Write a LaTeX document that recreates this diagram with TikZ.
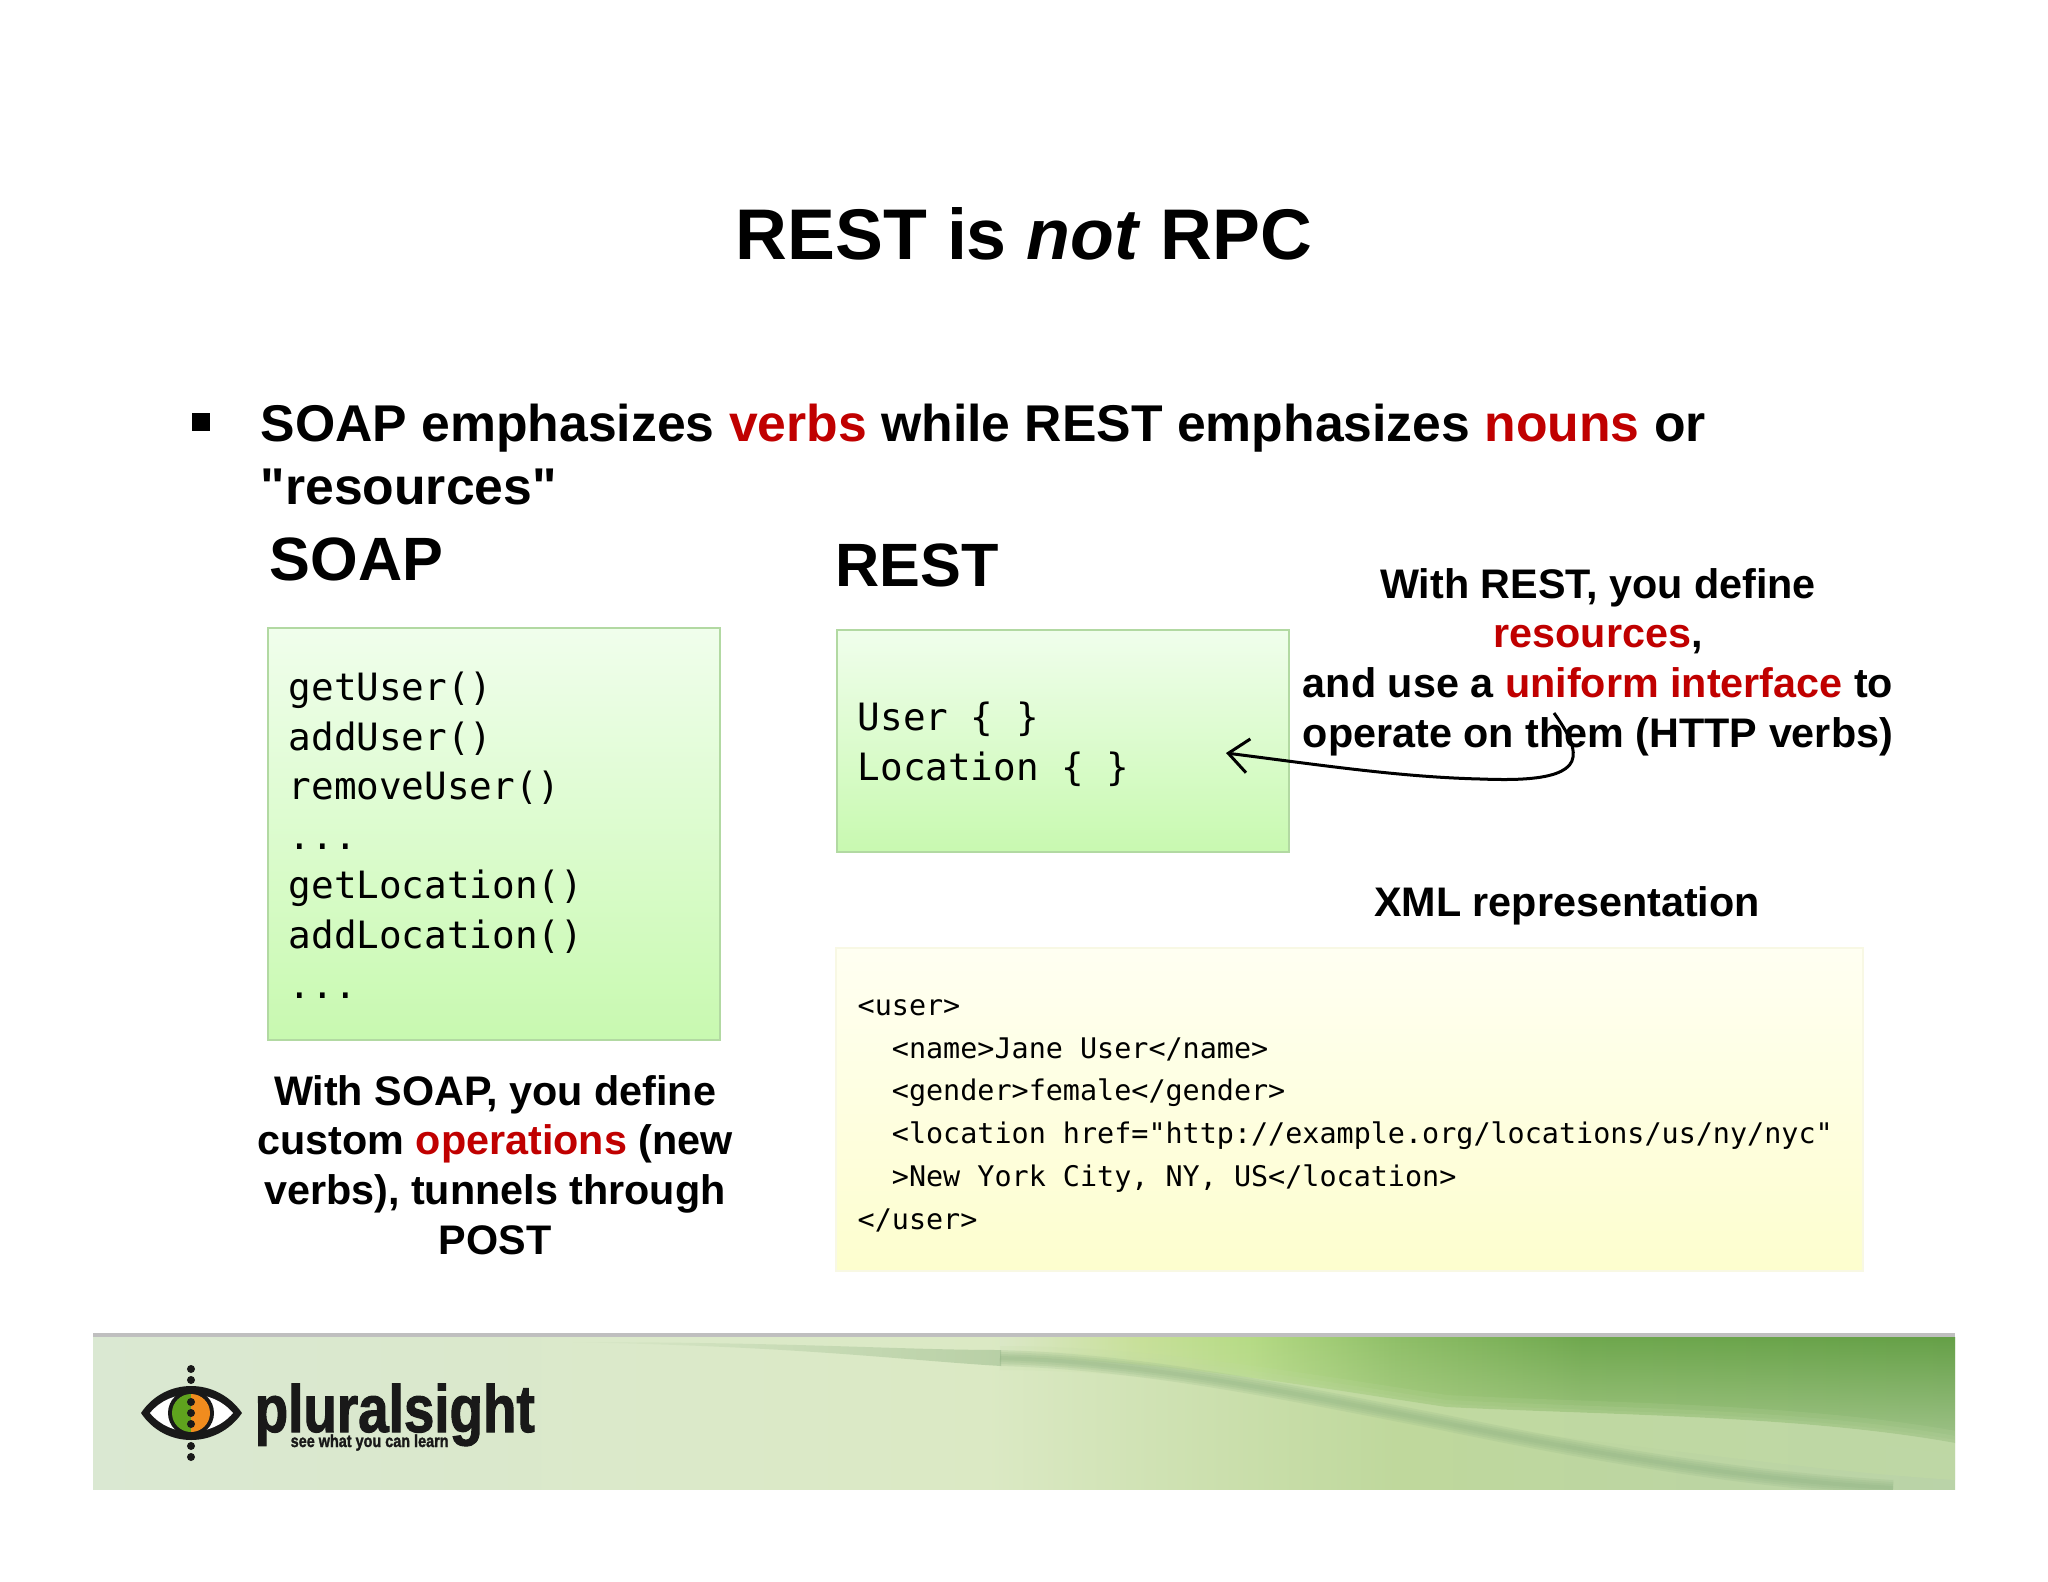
\documentclass[tikz,border=0pt]{standalone}
\usepackage{fontspec}
\setmainfont{Liberation Sans}[Ligatures=TeXOff]
\newfontfamily\codefont{DejaVu Sans Mono}
\newfontfamily\logofont[FakeStretch=0.82,FakeBold=1.5]{Liberation Sans Bold}
\usetikzlibrary{arrows.meta,fadings}

\definecolor{hotred}{HTML}{C00000}
\definecolor{greentop}{HTML}{F0FEEC}
\definecolor{greenbot}{HTML}{C8F9B0}
\definecolor{greenline}{HTML}{B2D9A2}
\definecolor{yellowtop}{HTML}{FFFFF2}
\definecolor{yellowbot}{HTML}{FDFECE}
\definecolor{yellowline}{HTML}{F8F8E4}
\definecolor{wavegreen}{HTML}{8FB283}
\definecolor{bandgreen}{HTML}{C2DBA4}
\definecolor{irisgreen}{HTML}{5FA31E}
\definecolor{irisorange}{HTML}{F08C1E}
\definecolor{baseone}{HTML}{DAE8D2}
\definecolor{basetwo}{HTML}{DBE9C4}
\definecolor{basethree}{HTML}{BFD89C}
\definecolor{basefour}{HTML}{BAD3A8}
\definecolor{grassone}{HTML}{DDE8CC}
\definecolor{grasstwo}{HTML}{C8E09A}
\definecolor{grassthree}{HTML}{B6DB85}
\definecolor{grassfour}{HTML}{8FBF68}
\definecolor{grassfive}{HTML}{6FA84E}
\definecolor{grasssix}{HTML}{65A047}

\pgfdeclarehorizontalshading{footbase}{100bp}{
    color(0bp)=(baseone);
    color(25bp)=(baseone);
    color(49bp)=(basetwo);
    color(60bp)=(basethree);
    color(75bp)=(basefour);
    color(100bp)=(basefour)}
\pgfdeclarehorizontalshading{footgrass}{100bp}{
    color(0bp)=(grassone);
    color(49bp)=(grassone);
    color(53bp)=(grasstwo);
    color(56bp)=(grassthree);
    color(60bp)=(grassfour);
    color(65bp)=(grassfive);
    color(75bp)=(grasssix);
    color(100bp)=(grasssix)}
\tikzfading[name=footfade, top color=transparent!0, bottom color=transparent!100]

\tikzset{
    sans/.style={inner sep=0pt, font=\bfseries\fontsize{11.75pt}{14.1pt}\selectfont},
    bodytext/.style={inner sep=0pt, align=left, font=\bfseries\fontsize{14.7pt}{17.64pt}\selectfont},
    headtext/.style={inner sep=0pt, font=\bfseries\fontsize{17.4pt}{20pt}\selectfont},
    bigcode/.style={inner sep=0pt, align=left, font=\codefont\fontsize{10.7pt}{14.1pt}\selectfont},
    smallcode/.style={inner sep=0pt, align=left, font=\codefont\fontsize{8.08pt}{12.15pt}\selectfont},
    greenbox/.style={draw=greenline, line width=0.2mm, top color=greentop, bottom color=greenbot},
    yellowbox/.style={draw=yellowline, line width=0.2mm, top color=yellowtop, bottom color=yellowbot},
    logodot/.style={fill=black!90, circle, inner sep=0pt, minimum size=0.08cm}
}

\begin{document}
\begin{tikzpicture}[x=0.01cm, y=-0.01cm]
    \useasboundingbox (0,0) rectangle (2048,1582);
    % Draw title
    \node[inner sep=0pt, anchor=base, font=\bfseries\fontsize{20.4pt}{24pt}\selectfont] (title) at (1024,260) {REST is \textit{not} RPC};
    % Draw bullet
    \node[fill=black, inner sep=0pt, minimum size=0.17cm] (bullet) at (201,422) {};
    \node[bodytext, anchor=base west] (intro) at (260,504) {SOAP emphasizes \textcolor{hotred}{verbs} while REST emphasizes \textcolor{hotred}{nouns} or\\"resources"};
    % Draw headings
    \node[headtext, anchor=base west] (soaphead) at (269,580) {SOAP};
    \node[headtext, anchor=base west] (resthead) at (835,586) {REST};
    % Draw boxes
    \path[greenbox] (268,628) rectangle (720,1040);
    \path[greenbox] (837,630) rectangle (1289,852);
    \path[yellowbox] (836,948) rectangle (1863,1271);
    % Draw code
    \node[bigcode, anchor=base west] (soapcode) at (288,998) {getUser()\\addUser()\\removeUser()\\...\\getLocation()\\addLocation()\\...};
    \node[bigcode, anchor=base west] (restcode) at (857,780) {User \{ \}\\Location \{ \}};
    \node[smallcode, anchor=base west] (xmlcode) at (857,1229) {<user>\\
~~<name>Jane User</name>\\
~~<gender>female</gender>\\
~~<location href="http://example.org/locations/us/ny/nyc"\\
~~>New York City, NY, US</location>\\
</user>};
    % Draw notes
    \node[sans, align=center, anchor=base] (restnote) at (1598,747) {With REST, you define\\\textcolor{hotred}{resources},\\and use a \textcolor{hotred}{uniform interface} to\\operate on them (HTTP verbs)};
    \node[sans, anchor=base] (xmlnote) at (1567,916) {XML representation};
    \node[sans, align=center, anchor=base] (soapnote) at (495,1254) {With SOAP, you define\\custom \textcolor{hotred}{operations} (new\\verbs), tunnels through\\POST};
    % Draw arrow
    \coordinate (arrowfrom) at (1554,713);
    \coordinate (arrowto) at (1226,753);
    \draw[-{Straight Barb[length=0.2cm,width=0.34cm]}, line width=0.3mm] (arrowfrom) .. controls (1566,730) and (1575,745) .. (1573,757)
        .. controls (1570,782) and (1510,780) .. (1480,779)
        .. controls (1400,777) and (1320,765) .. (arrowto);
    % Draw footer
    \fill[black!25] (93,1333) rectangle (1955,1337);
    \path[shading=footbase] (93,1337) rectangle (1955,1489);
    \begin{scope}
        \clip (93,1337) rectangle (1955,1489);
        \begin{scope}
            \clip (1000,1337) -- (1955,1337) -- (1955,1443) .. controls (1800,1415) and (1600,1415) .. (1446,1407)
                .. controls (1300,1385) and (1150,1358) .. (1000,1358) -- cycle;
            \path[shading=footgrass, path fading=footfade] (93,1337) rectangle (1955,1489);
        \end{scope}
        \fill[bandgreen, opacity=0.5] (1000,1358) .. controls (1150,1358) and (1300,1385) .. (1446,1407)
            .. controls (1600,1415) and (1800,1415) .. (1955,1443) -- (1955,1480) .. controls (1800,1470) and (1600,1440) .. (1446,1423)
            .. controls (1300,1385) and (1150,1358) .. (1000,1358) -- cycle;
        % Soften the edge of the band
        \foreach \w in {6,14,24}
            \draw[bandgreen, opacity=0.15, line width=\w*0.1mm] (1000,1358) .. controls (1150,1358) and (1300,1385) .. (1446,1407)
                .. controls (1600,1415) and (1800,1415) .. (1955,1443);
        \foreach \w in {4,8,12,16}
            \draw[wavegreen, opacity=0.18, line width=\w*0.1mm] (1000,1358) .. controls (1150,1362) and (1300,1395) .. (1446,1423)
                .. controls (1600,1455) and (1750,1480) .. (1893,1488);
        \fill[wavegreen, opacity=0.45, path fading=west] (560,1342) .. controls (800,1342) and (900,1350) .. (1001,1350) -- (1001,1366) .. controls (900,1360) and (800,1346) .. (560,1342) -- cycle;
    \end{scope}
    % Draw logo
    \fill[black!90] (141,1413) .. controls (165,1377) and (217,1377) .. (242,1413) .. controls (217,1449) and (165,1449) .. (141,1413) -- cycle;
    \fill[white] (150,1413) .. controls (170,1388) and (212,1388) .. (233,1413) .. controls (212,1438) and (170,1438) .. (150,1413) -- cycle;
    \fill[black!90] (191,1413) circle (23);
    \fill[irisgreen] (191,1432) arc (90:270:19) -- cycle;
    \fill[irisorange] (191,1432) arc (90:-90:19) -- cycle;
    \foreach \y in {1369,1380,1402,1413,1424,1446,1457}
        \node[logodot] (dot\y) at (191,\y) {};
    \node[inner sep=0pt, anchor=base west, text=black!90, font=\logofont\fontsize{19pt}{20pt}\selectfont] (logoname) at (254,1432) {pluralsight};
    \node[inner sep=0pt, anchor=base west, text=black!90, font=\logofont\fontsize{5pt}{6pt}\selectfont] (logotag) at (290,1447) {see what you can learn};
\end{tikzpicture}
\end{document}
